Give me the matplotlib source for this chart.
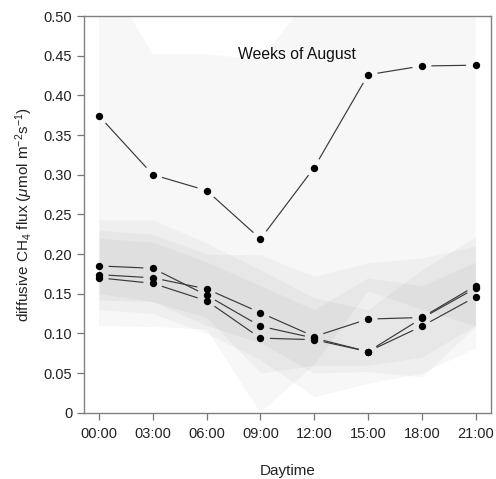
import numpy as np
import matplotlib
matplotlib.use('Agg')
import matplotlib.pyplot as plt

plt.rcParams['font.family'] = ['Liberation Sans', 'DejaVu Sans']
plt.rcParams['mathtext.fontset'] = 'custom'
plt.rcParams['mathtext.rm'] = 'Liberation Sans'
plt.rcParams['mathtext.it'] = 'Liberation Sans:italic'

# horas do dia
horas = ['00:00', '03:00', '06:00', '09:00', '12:00', '15:00', '18:00', '21:00']

# medias por semana
semana1 = [0.185, 0.182, 0.148, 0.109, 0.094, 0.077, 0.119, 0.157]
semana2 = [0.174, 0.170, 0.156, 0.126, 0.096, 0.118, 0.120, 0.160]
semana3 = [0.170, 0.163, 0.141, 0.094, 0.092, 0.077, 0.109, 0.146]
semana4 = [0.374, 0.300, 0.280, 0.219, 0.309, 0.426, 0.437, 0.438]

# limites das faixas (sombreado)
sup1 = [0.243, 0.243, 0.214, 0.180, 0.145, 0.130, 0.180, 0.222]
inf1 = [0.130, 0.125, 0.100, 0.067, 0.020, 0.037, 0.050, 0.082]
sup2 = [0.230, 0.225, 0.200, 0.199, 0.172, 0.189, 0.195, 0.210]
inf2 = [0.142, 0.140, 0.110, 0.088, 0.050, 0.052, 0.045, 0.109]
sup3 = [0.220, 0.215, 0.190, 0.160, 0.130, 0.170, 0.160, 0.190]
inf3 = [0.150, 0.140, 0.120, 0.050, 0.060, 0.060, 0.070, 0.110]
sup4 = [0.565, 0.452, 0.452, 0.445, 0.530, 0.700, 0.750, 0.600]
inf4 = [0.109, 0.108, 0.105, 0.000, 0.060, 0.153, 0.130, 0.109]

x = np.arange(len(horas))

fig = plt.figure(figsize=(4.96, 4.79), dpi=100)
ax = fig.add_axes([84 / 496, 1 - 412.7 / 479, (490.7 - 84) / 496, (412.7 - 16) / 479])
ax.set_xlim(-0.28, 7.28)
ax.set_ylim(0, 0.5)

for lo, hi in [(inf4, sup4), (inf1, sup1), (inf2, sup2), (inf3, sup3)]:
    ax.fill_between(x, lo, hi, color='black', alpha=0.03, lw=0)


def linha_b(ax, xs, ys, gap=9.5):
    # linhas com espaco em volta dos pontos (estilo type="b" do R)
    pts = ax.transData.transform(np.column_stack([xs, ys]))
    inv = ax.transData.inverted()
    for p0, p1 in zip(pts[:-1], pts[1:]):
        d = p1 - p0
        L = np.hypot(d[0], d[1])
        if L <= 2 * gap:
            continue
        u = d / L
        seg = inv.transform([p0 + u * gap, p1 - u * gap])
        ax.plot(seg[:, 0], seg[:, 1], color='#3a3a3a', lw=0.85, solid_capstyle='butt')
    ax.plot(xs, ys, 'o', color='black', ms=5.3, mec='black', mew=0)


for s in [semana1, semana2, semana3, semana4]:
    linha_b(ax, x, s)

ax.text(3.68, 0.452, 'Weeks of August', ha='center', va='center', fontsize=11.3, color='#111111')

ax.set_xticks(x)
ax.set_xticklabels(horas)
ax.set_yticks(np.arange(0, 0.51, 0.05))
ax.set_yticklabels(['0'] + ['%.2f' % v for v in np.arange(0.05, 0.51, 0.05)])
ax.tick_params(direction='out', length=5, width=0.9, color='#777777', labelsize=10.5,
               labelcolor='#222222')
ax.tick_params(axis='x', pad=5.5)
ax.tick_params(axis='y', pad=3.5)
for sp in ax.spines.values():
    sp.set_color('#808080')
    sp.set_linewidth(1.0)

ax.set_xlabel('Daytime', fontsize=11, color='#222222', labelpad=16)
ax.set_ylabel(r'diffusive CH$_4$ flux ($\mu$mol m$^{-2}$s$^{-1}$)', fontsize=11,
              color='#222222', labelpad=6)

fig.savefig('out.png', dpi=100)
